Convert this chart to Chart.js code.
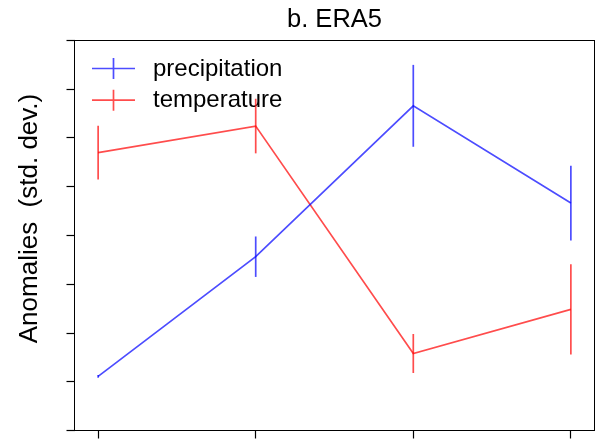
<!DOCTYPE html>
<html>
<head>
<meta charset="utf-8">
<script src="https://cdn.jsdelivr.net/npm/chart.js@4"></script>
<style>
  html, body { margin: 0; padding: 0; background: #fff; }
  canvas { display: block; }
</style>
</head>
<body>
<canvas id="chart" width="601" height="440"></canvas>
<script>
// Four stages along the x axis (unlabelled ticks)
const stages = [0, 1, 2, 3];

// Mean anomalies (std. dev.) and their one-sided error half-widths
const precipitation    = [-0.578, -0.087, 0.532, 0.133];
const precipitationErr = [0.006, 0.083, 0.168, 0.153];
const temperature      = [0.340, 0.449, -0.484, -0.303];
const temperatureErr   = [0.110, 0.112, 0.080, 0.185];

// Tick positions on the value axis (labels hidden)
const yTicks = [-0.8, -0.6, -0.4, -0.2, 0, 0.2, 0.4, 0.6, 0.8];

const titleText = 'b. ERA5';
const yAxisLabel = 'Anomalies  (std. dev.)';

const FONT = '"Liberation Sans", Arial, sans-serif';
Chart.defaults.font.family = FONT;
Chart.defaults.color = '#000';

const points = (vals) => stages.map((x, i) => ({ x, y: vals[i] }));

// Vertical error bars through each point, in the series colour
const errorBars = {
  id: 'errorBars',
  afterDatasetsDraw(chart) {
    const { ctx, scales: { x, y } } = chart;
    chart.data.datasets.forEach((ds) => {
      if (!ds.errors) return;
      ctx.save();
      ctx.strokeStyle = ds.borderColor;
      ctx.lineWidth = ds.borderWidth;
      ds.data.forEach((p, j) => {
        const px = x.getPixelForValue(p.x);
        ctx.beginPath();
        ctx.moveTo(px, y.getPixelForValue(p.y + ds.errors[j]));
        ctx.lineTo(px, y.getPixelForValue(p.y - ds.errors[j]));
        ctx.stroke();
      });
      ctx.restore();
    });
  }
};

// Legend inside the plot frame: line with a vertical bar, then the label
const insetLegend = {
  id: 'insetLegend',
  beforeDatasetsDraw(chart) {
    const { ctx, chartArea: a } = chart;
    ctx.save();
    ctx.font = '24px ' + FONT;
    ctx.textBaseline = 'middle';
    ctx.textAlign = 'left';
    chart.data.datasets.forEach((ds, i) => {
      const cy = a.top + 28 + i * 31.7;
      ctx.strokeStyle = ds.borderColor;
      ctx.lineWidth = ds.borderWidth;
      ctx.beginPath();
      ctx.moveTo(a.left + 17.5, cy);
      ctx.lineTo(a.left + 60.5, cy);
      ctx.moveTo(a.left + 39, cy - 10.5);
      ctx.lineTo(a.left + 39, cy + 10.5);
      ctx.stroke();
      ctx.fillStyle = '#000';
      ctx.fillText(ds.label, a.left + 78.5, cy + 0.5);
    });
    ctx.restore();
  }
};

// Rotated value-axis label to the left of the frame
const yLabel = {
  id: 'yLabel',
  afterDraw(chart) {
    const { ctx, chartArea: a } = chart;
    ctx.save();
    ctx.translate(29.5, (a.top + a.bottom) / 2 - 17);
    ctx.rotate(-Math.PI / 2);
    ctx.font = '26px ' + FONT;
    ctx.fillStyle = '#000';
    ctx.textAlign = 'center';
    ctx.textBaseline = 'middle';
    ctx.fillText(yAxisLabel, 0, 0);
    ctx.restore();
  }
};

// Box around the plotting area
const frame = {
  id: 'frame',
  afterDraw(chart) {
    const { ctx, chartArea: a } = chart;
    ctx.save();
    ctx.strokeStyle = '#000';
    ctx.lineWidth = 1;
    ctx.strokeRect(a.left, a.top, a.right - a.left, a.bottom - a.top);
    ctx.restore();
  }
};

new Chart(document.getElementById('chart'), {
  type: 'line',
  data: {
    datasets: [
      {
        label: 'precipitation',
        data: points(precipitation),
        errors: precipitationErr,
        borderColor: 'rgba(0, 0, 255, 0.7)',
        borderWidth: 1.7,
        pointRadius: 0,
        tension: 0,
        fill: false
      },
      {
        label: 'temperature',
        data: points(temperature),
        errors: temperatureErr,
        borderColor: 'rgba(255, 0, 0, 0.7)',
        borderWidth: 1.7,
        pointRadius: 0,
        tension: 0,
        fill: false
      }
    ]
  },
  options: {
    responsive: false,
    animation: false,
    layout: { padding: { left: 0, right: 6.5, top: 0, bottom: 0 } },
    plugins: {
      legend: { display: false },
      tooltip: { enabled: false }
    },
    scales: {
      x: {
        type: 'linear',
        position: 'bottom',
        min: -0.15,
        max: 3.15,
        afterBuildTicks: (s) => { s.ticks = stages.map((v) => ({ value: v })); },
        ticks: { display: false },
        grid: { display: true, drawOnChartArea: false, drawTicks: true, tickLength: 8, tickColor: '#000', tickWidth: 1.2 },
        border: { display: false },
        afterFit: (s) => { s.height = 9.5; }
      },
      top: {
        type: 'linear',
        axis: 'x',
        position: 'top',
        ticks: { display: false },
        grid: { display: false, drawTicks: false },
        border: { display: false },
        title: {
          display: true,
          text: titleText,
          color: '#000',
          font: { size: 25.5, family: FONT },
          padding: { top: 4.5, bottom: 0 }
        },
        afterFit: (s) => { s.height = 40.5; }
      },
      y: {
        type: 'linear',
        position: 'left',
        min: -0.8,
        max: 0.8,
        afterBuildTicks: (s) => { s.ticks = yTicks.map((v) => ({ value: v })); },
        ticks: { display: false },
        grid: { display: true, drawOnChartArea: false, drawTicks: true, tickLength: 8, tickColor: '#000', tickWidth: 1.2 },
        border: { display: false },
        afterFit: (s) => { s.width = 74.5; }
      }
    }
  },
  plugins: [insetLegend, errorBars, yLabel, frame]
});
</script>
</body>
</html>
